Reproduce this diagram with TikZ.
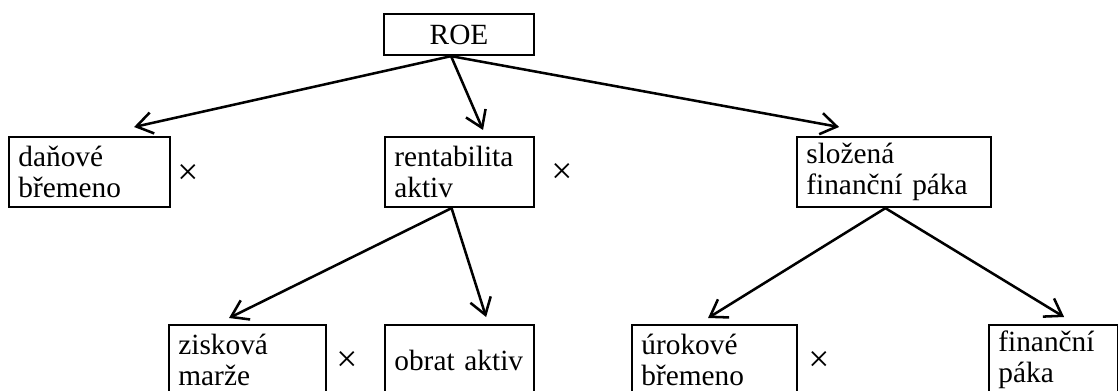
\documentclass[tikz,border=0pt]{standalone}
\usepackage{fontspec}
\setmainfont{Liberation Serif}
\usetikzlibrary{arrows.meta}

\begin{document}
\begin{tikzpicture}[x=0.75pt,y=-0.75pt,
  font=\fontsize{22pt}{23pt}\selectfont,
  box/.style={draw, line width=1.6pt, anchor=north west, align=left,
    inner xsep=7pt, inner ysep=0pt, minimum height=52.5pt},
  link/.style={line width=1.9pt, -{Straight Barb[length=12pt,width=16pt]}},
  mult/.style={inner sep=0pt, font=\fontsize{28pt}{28pt}\selectfont}]

\useasboundingbox (0,0) rectangle (1118,390);

% Top box
\node[box, text width=98.5pt, align=center, minimum height=30.75pt] (roe) at (383,13) {ROE};

% Middle row
\node[box, text width=106.75pt] (dan) at (8,136) {daňové\\břemeno};
\node[box, text width=97.75pt] (rent) at (384,136) {rentabilita\\aktiv};
\node[box, text width=131.5pt] (sloz) at (796,136) {složená\\finanční páka};

% Bottom row
\node[box, text width=103.75pt] (zisk) at (168,324) {zisková\\marže};
\node[box, text width=97.75pt] (obrat) at (384,324) {obrat aktiv};
\node[box, text width=109.75pt] (urok) at (631,324) {úrokové\\břemeno};
\node[box, text width=82.75pt] (fin) at (988,324) {finanční\\páka};

% Multiplication signs
\foreach \x/\y/\nm in {188/174/a, 562/173/b, 347/361/c, 819/361/d}
  \node[mult] (mul\nm) at (\x,\y) {×};

% Start and end points of the arrows
\coordinate (roe-out) at ([xshift=-6pt]roe.south);
\coordinate (rent-out) at ([xshift=-6pt]rent.south);
\coordinate (sloz-out) at ([xshift=-6.5pt]sloz.south);
\coordinate (dan-in) at ([xshift=33.4pt,yshift=6.75pt]dan.north);
\coordinate (rent-in) at ([xshift=17.6pt,yshift=4.5pt]rent.north);
\coordinate (sloz-in) at ([xshift=-41.25pt,yshift=6.75pt]sloz.north);
\coordinate (zisk-in) at ([xshift=-13.9pt,yshift=4.5pt]zisk.north);
\coordinate (obrat-in) at ([xshift=19.9pt,yshift=5.25pt]obrat.north);
\coordinate (urok-in) at ([xshift=-4.9pt,yshift=4.5pt]urok.north);
\coordinate (fin-in) at ([xshift=7.9pt,yshift=5.25pt]fin.north);

% Arrows
\draw[link] (roe-out) -- (dan-in);
\draw[link] (roe-out) -- (rent-in);
\draw[link] (roe-out) -- (sloz-in);
\draw[link] (rent-out) -- (zisk-in);
\draw[link] (rent-out) -- (obrat-in);
\draw[link] (sloz-out) -- (urok-in);
\draw[link] (sloz-out) -- (fin-in);

\end{tikzpicture}
\end{document}
